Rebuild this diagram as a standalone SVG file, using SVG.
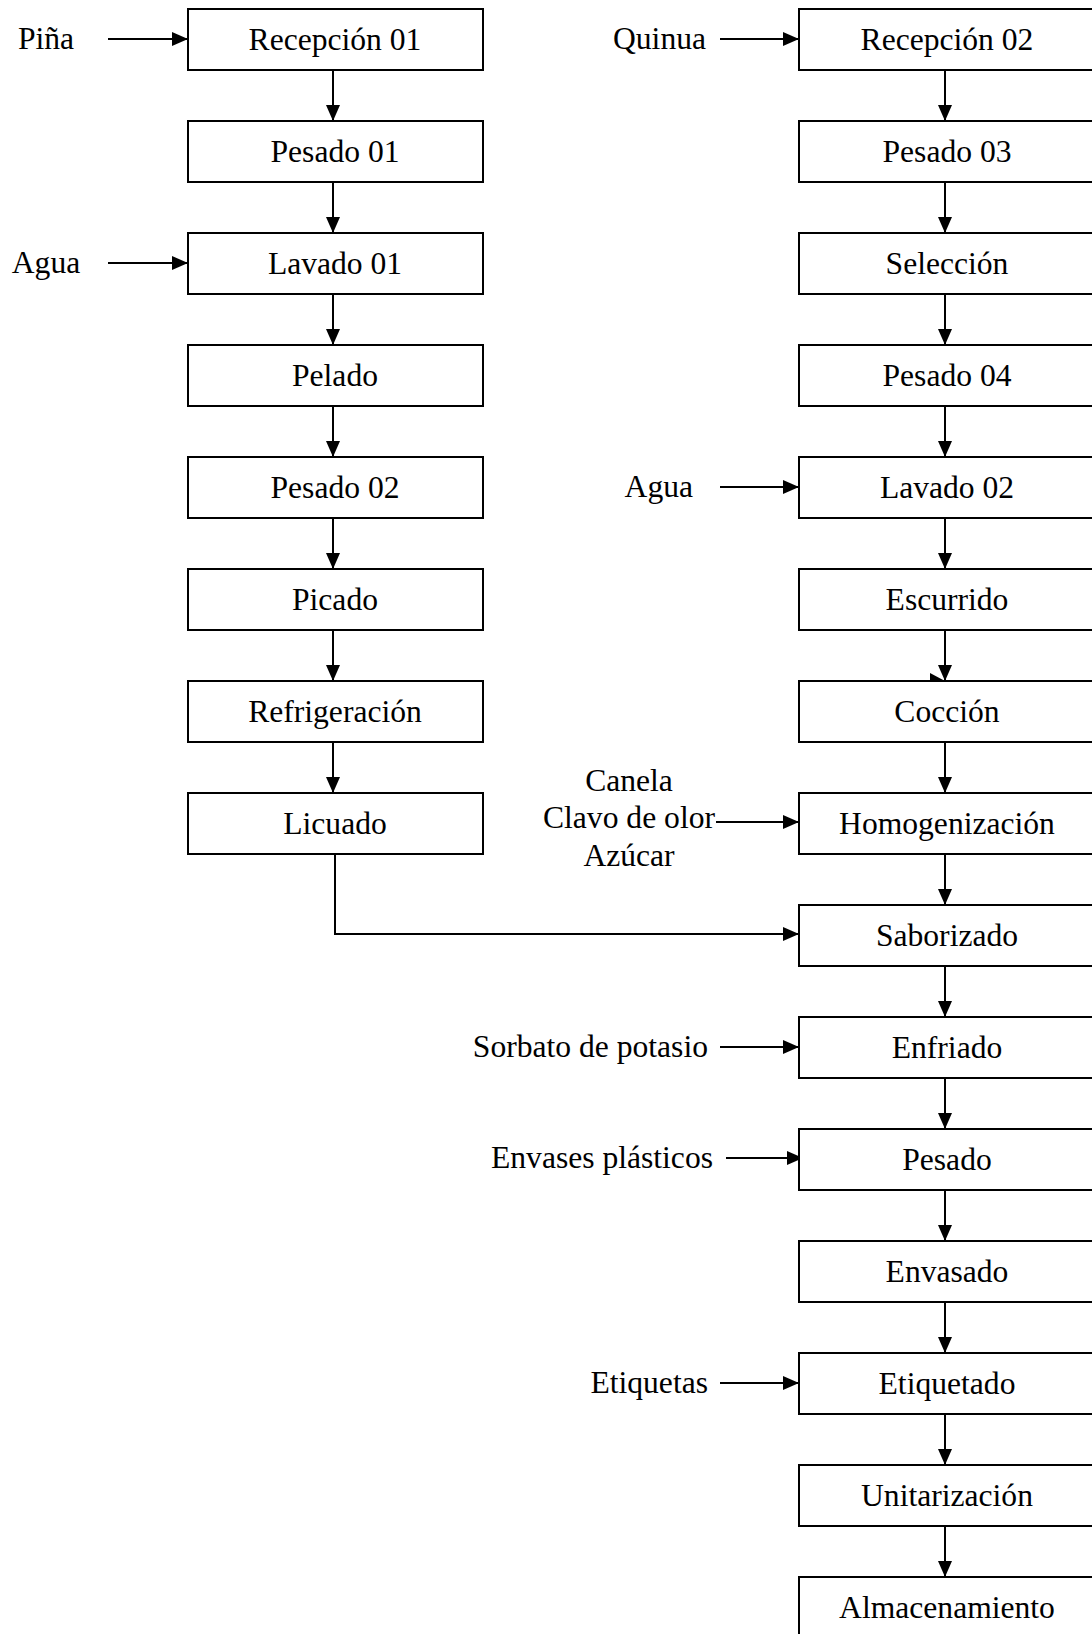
<svg xmlns="http://www.w3.org/2000/svg" width="1092" height="1634" viewBox="0 0 1092 1634">
<style>
rect.box{fill:#fff;stroke:#000;stroke-width:2}
text{font-family:"Liberation Serif","Times New Roman",serif;font-size:31.6px;fill:#000}
.c{text-anchor:middle}
.e{text-anchor:end}
.ln{fill:none;stroke:#000;stroke-width:2}
</style>
<defs>
<marker id="ah" markerUnits="userSpaceOnUse" markerWidth="16" markerHeight="14" refX="16" refY="7" orient="auto">
<path d="M0,0 L16,7 L0,14 z" fill="#000"/>
</marker>
</defs>
<g id="connectors">
<line class="ln" x1="108" y1="39" x2="188" y2="39" marker-end="url(#ah)"/>
<line class="ln" x1="108" y1="263" x2="188" y2="263" marker-end="url(#ah)"/>
<line class="ln" x1="333" y1="70" x2="333" y2="121" marker-end="url(#ah)"/>
<line class="ln" x1="333" y1="182" x2="333" y2="233" marker-end="url(#ah)"/>
<line class="ln" x1="333" y1="294" x2="333" y2="345" marker-end="url(#ah)"/>
<line class="ln" x1="333" y1="406" x2="333" y2="457" marker-end="url(#ah)"/>
<line class="ln" x1="333" y1="518" x2="333" y2="569" marker-end="url(#ah)"/>
<line class="ln" x1="333" y1="630" x2="333" y2="681" marker-end="url(#ah)"/>
<line class="ln" x1="333" y1="742" x2="333" y2="793" marker-end="url(#ah)"/>
<polyline class="ln" points="335,854 335,934 799,934" marker-end="url(#ah)"/>
<line class="ln" x1="720" y1="39" x2="799" y2="39" marker-end="url(#ah)"/>
<line class="ln" x1="720" y1="487" x2="799" y2="487" marker-end="url(#ah)"/>
<line class="ln" x1="716" y1="822" x2="799" y2="822" marker-end="url(#ah)"/>
<line class="ln" x1="720" y1="1047" x2="799" y2="1047" marker-end="url(#ah)"/>
<line class="ln" x1="726" y1="1158" x2="803" y2="1158" marker-end="url(#ah)"/>
<line class="ln" x1="720" y1="1383" x2="799" y2="1383" marker-end="url(#ah)"/>
<line class="ln" x1="945" y1="70" x2="945" y2="121" marker-end="url(#ah)"/>
<line class="ln" x1="945" y1="182" x2="945" y2="233" marker-end="url(#ah)"/>
<line class="ln" x1="945" y1="294" x2="945" y2="345" marker-end="url(#ah)"/>
<line class="ln" x1="945" y1="406" x2="945" y2="457" marker-end="url(#ah)"/>
<line class="ln" x1="945" y1="518" x2="945" y2="569" marker-end="url(#ah)"/>
<line class="ln" x1="945" y1="630" x2="945" y2="681" marker-end="url(#ah)"/>
<polygon points="930,673 930,681 945,681" fill="#000"/>
<line class="ln" x1="945" y1="742" x2="945" y2="793" marker-end="url(#ah)"/>
<line class="ln" x1="945" y1="854" x2="945" y2="905" marker-end="url(#ah)"/>
<line class="ln" x1="945" y1="966" x2="945" y2="1017" marker-end="url(#ah)"/>
<line class="ln" x1="945" y1="1078" x2="945" y2="1129" marker-end="url(#ah)"/>
<line class="ln" x1="945" y1="1190" x2="945" y2="1241" marker-end="url(#ah)"/>
<line class="ln" x1="945" y1="1302" x2="945" y2="1353" marker-end="url(#ah)"/>
<line class="ln" x1="945" y1="1414" x2="945" y2="1465" marker-end="url(#ah)"/>
<line class="ln" x1="945" y1="1526" x2="945" y2="1577" marker-end="url(#ah)"/>
</g>
<g id="inputs">
<text class="c" x="46" y="49">Piña</text>
<text class="c" x="46" y="273">Agua</text>
<text class="e" x="706" y="49">Quinua</text>
<text class="e" x="693" y="497">Agua</text>
<text class="c" x="629" y="791">Canela</text>
<text class="c" x="629" y="828">Clavo de olor</text>
<text class="c" x="629" y="866">Azúcar</text>
<text class="e" x="708" y="1057">Sorbato de potasio</text>
<text class="e" x="713" y="1168">Envases plásticos</text>
<text class="e" x="708" y="1393">Etiquetas</text>
</g>
<g id="n-recepcion01"><rect class="box" x="188" y="9" width="295" height="61"/><text class="c" x="335" y="49.5">Recepción 01</text></g>
<g id="n-pesado01"><rect class="box" x="188" y="121" width="295" height="61"/><text class="c" x="335" y="161.5">Pesado 01</text></g>
<g id="n-lavado01"><rect class="box" x="188" y="233" width="295" height="61"/><text class="c" x="335" y="273.5">Lavado 01</text></g>
<g id="n-pelado"><rect class="box" x="188" y="345" width="295" height="61"/><text class="c" x="335" y="385.5">Pelado</text></g>
<g id="n-pesado02"><rect class="box" x="188" y="457" width="295" height="61"/><text class="c" x="335" y="497.5">Pesado 02</text></g>
<g id="n-picado"><rect class="box" x="188" y="569" width="295" height="61"/><text class="c" x="335" y="609.5">Picado</text></g>
<g id="n-refrigeracion"><rect class="box" x="188" y="681" width="295" height="61"/><text class="c" x="335" y="721.5">Refrigeración</text></g>
<g id="n-licuado"><rect class="box" x="188" y="793" width="295" height="61"/><text class="c" x="335" y="833.5">Licuado</text></g>
<g id="n-recepcion02"><rect class="box" x="799" y="9" width="295" height="61"/><text class="c" x="947" y="49.5">Recepción 02</text></g>
<g id="n-pesado03"><rect class="box" x="799" y="121" width="295" height="61"/><text class="c" x="947" y="161.5">Pesado 03</text></g>
<g id="n-seleccion"><rect class="box" x="799" y="233" width="295" height="61"/><text class="c" x="947" y="273.5">Selección</text></g>
<g id="n-pesado04"><rect class="box" x="799" y="345" width="295" height="61"/><text class="c" x="947" y="385.5">Pesado 04</text></g>
<g id="n-lavado02"><rect class="box" x="799" y="457" width="295" height="61"/><text class="c" x="947" y="497.5">Lavado 02</text></g>
<g id="n-escurrido"><rect class="box" x="799" y="569" width="295" height="61"/><text class="c" x="947" y="609.5">Escurrido</text></g>
<g id="n-coccion"><rect class="box" x="799" y="681" width="295" height="61"/><text class="c" x="947" y="721.5">Cocción</text></g>
<g id="n-homogenizacion"><rect class="box" x="799" y="793" width="295" height="61"/><text class="c" x="947" y="833.5">Homogenización</text></g>
<g id="n-saborizado"><rect class="box" x="799" y="905" width="295" height="61"/><text class="c" x="947" y="945.5">Saborizado</text></g>
<g id="n-enfriado"><rect class="box" x="799" y="1017" width="295" height="61"/><text class="c" x="947" y="1057.5">Enfriado</text></g>
<g id="n-pesado"><rect class="box" x="799" y="1129" width="295" height="61"/><text class="c" x="947" y="1169.5">Pesado</text></g>
<g id="n-envasado"><rect class="box" x="799" y="1241" width="295" height="61"/><text class="c" x="947" y="1281.5">Envasado</text></g>
<g id="n-etiquetado"><rect class="box" x="799" y="1353" width="295" height="61"/><text class="c" x="947" y="1393.5">Etiquetado</text></g>
<g id="n-unitarizacion"><rect class="box" x="799" y="1465" width="295" height="61"/><text class="c" x="947" y="1505.5">Unitarización</text></g>
<g id="n-almacenamiento"><rect class="box" x="799" y="1577" width="295" height="61"/><text class="c" x="947" y="1617.5">Almacenamiento</text></g>
</svg>
